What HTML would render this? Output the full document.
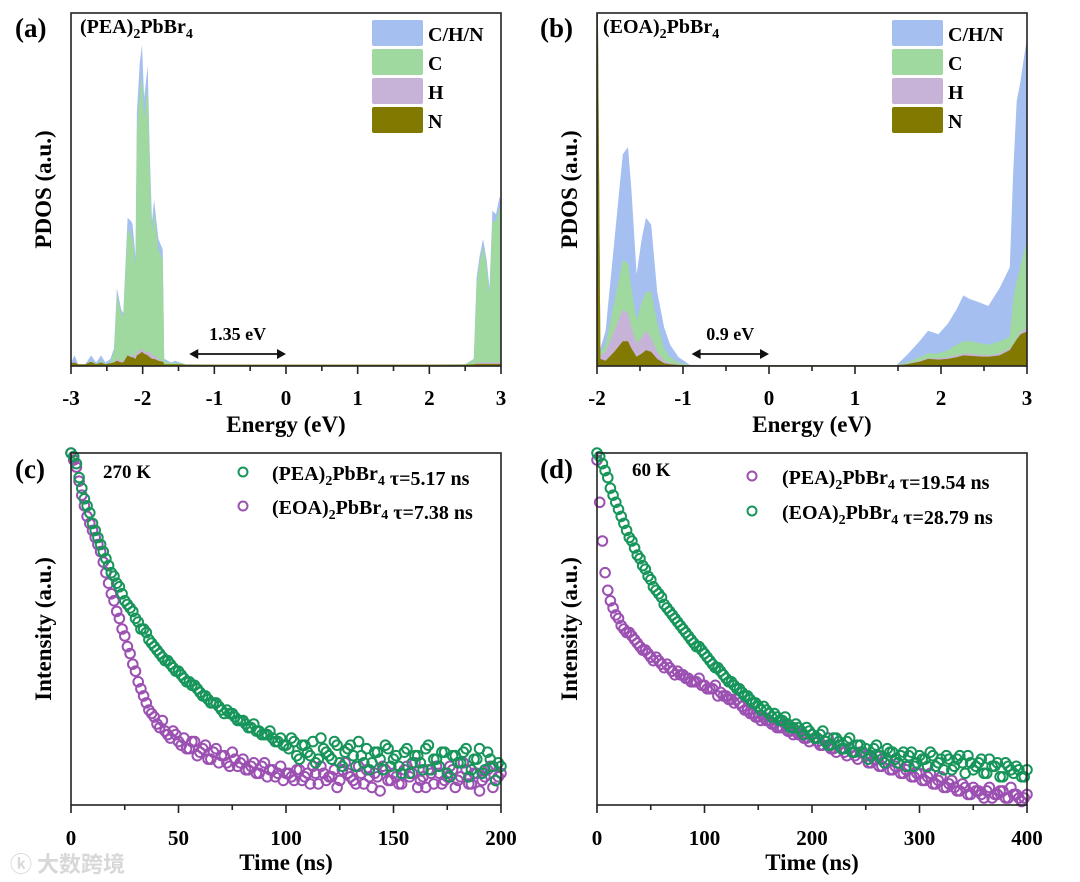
<!DOCTYPE html>
<html><head><meta charset="utf-8"><style>
html,body{margin:0;padding:0;background:#fff;}
svg{display:block;font-family:"Liberation Serif","Noto Serif CJK SC",serif;font-weight:bold;}
</style></head><body>
<svg id="fig" width="1080" height="882" viewBox="0 0 1080 882" xmlns="http://www.w3.org/2000/svg">
<text x="10" y="872" font-family="'Noto Sans CJK SC',sans-serif" font-size="22" fill="#d8d8d8">ⓚ 大数跨境</text>
</svg>
<script>
// ---------- Panel (a) PDOS data ----------
const energyA = [-3,-2.95,-2.9,-2.8,-2.72,-2.65,-2.58,-2.52,-2.45,-2.4,-2.36,-2.3,-2.27,-2.21,-2.16,-2.14,-2.1,-2.08,-2.04,-2.01,-1.98,-1.93,-1.9,-1.87,-1.84,-1.78,-1.72,-1.71,-1.70,-1.6,-1.55,-1.48,-1.4,-1.0,0,1,2,2.5,2.62,2.66,2.70,2.75,2.80,2.84,2.88,2.93,2.98,3.0];
const totalA = [0.01,0.03,0.005,0.005,0.03,0.01,0.03,0.01,0.02,0.05,0.22,0.16,0.15,0.42,0.41,0.40,0.31,0.72,0.86,0.91,0.76,0.85,0.60,0.41,0.47,0.36,0.33,0.2,0.02,0.01,0.015,0.01,0.005,0.004,0.004,0.004,0.004,0.005,0.02,0.25,0.31,0.36,0.30,0.22,0.44,0.43,0.48,0.46];
const carbonA = [0.005,0.01,0.003,0.003,0.015,0.005,0.015,0.005,0.01,0.04,0.20,0.15,0.14,0.39,0.37,0.36,0.28,0.66,0.78,0.82,0.70,0.79,0.55,0.38,0.44,0.33,0.30,0.18,0.015,0.008,0.01,0.008,0.004,0.003,0.003,0.003,0.003,0.004,0.018,0.23,0.29,0.34,0.28,0.20,0.41,0.41,0.45,0.44];
const hydrogenA = [0.003,0.01,0.002,0.002,0.01,0.003,0.01,0.003,0.005,0.01,0.02,0.015,0.015,0.03,0.03,0.03,0.03,0.04,0.045,0.05,0.04,0.04,0.04,0.03,0.03,0.02,0.015,0.01,0.005,0.003,0.003,0.003,0.003,0.003,0.003,0.003,0.003,0.003,0.005,0.01,0.01,0.01,0.01,0.01,0.01,0.01,0.01,0.01];
const nitrogenA = [0.008,0.01,0.005,0.005,0.012,0.005,0.01,0.005,0.008,0.01,0.015,0.01,0.01,0.03,0.025,0.025,0.02,0.03,0.035,0.04,0.035,0.03,0.025,0.02,0.02,0.015,0.012,0.01,0.005,0.005,0.005,0.005,0.004,0.004,0.004,0.004,0.004,0.004,0.005,0.006,0.006,0.006,0.006,0.006,0.006,0.006,0.006,0.006];
const ticksA = [-3,-2,-1,0,1,2,3];
// ---------- Panel (b) PDOS data ----------
const energyB = [-2.0,-1.99,-1.96,-1.90,-1.80,-1.70,-1.64,-1.60,-1.54,-1.48,-1.43,-1.37,-1.30,-1.22,-1.15,-1.05,-0.92,0,1.0,1.48,1.6,1.75,1.85,1.97,2.08,2.18,2.26,2.33,2.45,2.55,2.68,2.80,2.84,2.88,2.92,2.95,3.0];
const totalB = [1.0,1.0,0.05,0.10,0.35,0.60,0.62,0.50,0.26,0.36,0.42,0.40,0.21,0.11,0.06,0.025,0.003,0.002,0.002,0.002,0.03,0.07,0.10,0.09,0.12,0.16,0.20,0.19,0.18,0.17,0.22,0.28,0.55,0.75,0.80,0.85,0.93];
const carbonB = [1.0,1.0,0.04,0.06,0.18,0.30,0.29,0.22,0.13,0.18,0.21,0.21,0.12,0.05,0.025,0.01,0.002,0.002,0.002,0.002,0.01,0.025,0.036,0.035,0.045,0.06,0.07,0.07,0.065,0.06,0.07,0.083,0.19,0.24,0.28,0.31,0.35];
const hydrogenB = [1.0,1.0,0.03,0.04,0.10,0.16,0.15,0.11,0.065,0.08,0.10,0.08,0.04,0.015,0.008,0.004,0.002,0.002,0.002,0.002,0.006,0.015,0.022,0.022,0.025,0.03,0.035,0.035,0.032,0.03,0.035,0.05,0.06,0.08,0.095,0.10,0.107];
const nitrogenB = [1.0,1.0,0.02,0.015,0.04,0.07,0.07,0.05,0.026,0.035,0.045,0.04,0.02,0.008,0.005,0.003,0.002,0.002,0.002,0.002,0.005,0.012,0.02,0.018,0.02,0.025,0.03,0.029,0.027,0.026,0.03,0.045,0.06,0.075,0.088,0.093,0.097];
const ticksB = [-2,-1,0,1,2,3];
// ---------- Panel (c) TRPL 270 K ----------
const timeStepC = 2.5;
const peaC = [1.00,0.97,0.90,0.85,0.80,0.76,0.72,0.68,0.65,0.62,0.58,0.56,0.53,0.50,0.49,0.46,0.44,0.42,0.41,0.39,0.38,0.36,0.35,0.34,0.32,0.31,0.29,0.29,0.27,0.27,0.26,0.24,0.24,0.22,0.23,0.21,0.20,0.21,0.18,0.19,0.17,
0.19,0.14,0.17,0.15,0.18,0.13,0.16,0.14,0.18,0.12,0.15,0.17,0.11,0.14,0.16,0.12,0.15,0.10,0.16,0.13,0.11,0.15,0.09,0.14,0.12,0.16,0.10,0.13,0.15,0.09,0.14,0.12,0.15,0.08,0.13,0.16,0.10,0.13,0.07,0.11];
const peaC2 = [0.99,0.93,0.87,0.83,0.78,0.74,0.70,0.66,0.63,0.60,0.57,0.55,0.52,0.50,0.47,0.45,0.43,0.41,0.40,0.38,0.37,0.35,0.34,0.33,0.31,0.30,0.29,0.28,0.26,0.26,0.25,0.24,0.23,0.22,0.21,0.20,0.20,0.19,0.18,0.17,
0.16,0.18,0.13,0.17,0.14,0.12,0.19,0.15,0.13,0.17,0.11,0.16,0.14,0.18,0.12,0.10,0.15,0.13,0.17,0.11,0.14,0.09,0.16,0.12,0.14,0.10,0.17,0.13,0.11,0.15,0.08,0.14,0.12,0.16,0.10,0.13,0.09,0.15,0.11,0.12];
const eoaC = [1.00,0.96,0.88,0.82,0.78,0.74,0.69,0.63,0.58,0.53,0.48,0.43,0.38,0.33,0.29,0.26,0.23,0.24,0.20,0.21,0.18,0.19,0.16,0.18,0.15,0.17,0.13,0.16,0.14,0.12,0.15,0.11,0.13,0.10,0.12,0.09,0.12,0.10,0.08,0.11,0.09,
0.08,0.10,0.07,0.09,0.11,0.06,0.09,0.08,0.10,0.07,0.12,0.08,0.06,0.09,0.10,0.05,0.08,0.11,0.07,0.09,0.06,0.10,0.08,0.12,0.07,0.05,0.09,0.11,0.06,0.08,0.10,0.07,0.12,0.06,0.09,0.04,0.08,0.11,0.07,0.09];
const eoaC2 = [0.98,0.92,0.85,0.80,0.76,0.72,0.66,0.60,0.55,0.50,0.45,0.40,0.35,0.31,0.27,0.25,0.22,0.21,0.19,0.20,0.17,0.16,0.18,0.14,0.16,0.13,0.15,0.12,0.14,0.11,0.13,0.12,0.10,0.11,0.09,0.11,0.08,0.10,0.09,0.07,
0.09,0.07,0.10,0.08,0.06,0.09,0.11,0.07,0.08,0.05,0.10,0.09,0.07,0.11,0.06,0.08,0.09,0.04,0.10,0.07,0.08,0.06,0.11,0.09,0.05,0.08,0.10,0.06,0.09,0.07,0.11,0.05,0.08,0.10,0.06,0.09,0.07,0.10,0.05,0.08];
const ticksC = [0,50,100,150,200];
// ---------- Panel (d) TRPL 60 K ----------
const timeStepD = 5;
const peaD = [0.98,0.75,0.61,0.56,0.53,0.50,0.49,0.47,0.45,0.44,0.42,0.42,0.40,0.40,0.38,0.38,0.37,0.36,0.35,0.36,0.34,0.33,0.34,0.32,0.31,0.30,0.30,0.28,0.27,0.26,0.25,0.25,0.24,0.23,0.22,0.23,0.21,0.21,0.20,0.19,0.20,0.18,0.17,0.19,0.16,0.17,0.15,0.16,0.14,0.15,0.14,0.12,0.14,0.11,0.13,0.10,0.12,0.09,0.11,0.08,0.09,0.07,0.09,0.06,0.08,0.05,0.07,0.04,0.06,0.03,0.05,0.04,0.02,0.05,0.03,0.04,0.02,0.05,0.03,0.01,0.03];
const peaD2 = [0.86,0.66,0.58,0.54,0.51,0.49,0.48,0.46,0.44,0.43,0.41,0.41,0.39,0.39,0.37,0.37,0.36,0.35,0.35,0.34,0.33,0.33,0.31,0.31,0.30,0.29,0.29,0.27,0.26,0.25,0.24,0.24,0.23,0.22,0.22,0.21,0.20,0.20,0.19,0.18,0.19,0.17,0.18,0.16,0.15,0.16,0.14,0.15,0.13,0.15,0.12,0.13,0.11,0.12,0.10,0.11,0.09,0.10,0.08,0.09,0.07,0.08,0.06,0.07,0.05,0.06,0.05,0.04,0.05,0.03,0.04,0.03,0.04,0.02,0.03,0.04,0.02,0.03,0.02,0.02];
const eoaD = [1.00,0.97,0.93,0.88,0.84,0.80,0.76,0.73,0.70,0.67,0.64,0.61,0.59,0.56,0.54,0.52,0.50,0.48,0.46,0.45,0.43,0.41,0.39,0.38,0.36,0.35,0.33,0.32,0.31,0.29,0.28,0.28,0.26,0.26,0.24,0.25,0.22,0.23,0.21,0.22,0.20,0.19,0.21,0.17,0.19,0.18,0.16,0.19,0.15,0.17,0.16,0.14,0.17,0.13,0.16,0.15,0.12,0.15,0.14,0.11,0.14,0.13,0.15,0.11,0.13,0.14,0.10,0.13,0.12,0.14,0.10,0.12,0.09,0.13,0.11,0.08,0.12,0.10,0.11,0.08,0.10];
const eoaD2 = [0.99,0.95,0.90,0.86,0.82,0.78,0.75,0.71,0.68,0.65,0.62,0.60,0.57,0.55,0.53,0.51,0.49,0.47,0.45,0.44,0.42,0.40,0.39,0.37,0.35,0.34,0.33,0.31,0.30,0.29,0.27,0.27,0.25,0.25,0.24,0.23,0.22,0.22,0.20,0.21,0.19,0.20,0.18,0.17,0.19,0.16,0.18,0.15,0.17,0.15,0.13,0.16,0.14,0.12,0.15,0.13,0.14,0.11,0.15,0.12,0.13,0.11,0.14,0.12,0.10,0.13,0.11,0.14,0.09,0.12,0.11,0.13,0.09,0.11,0.12,0.08,0.11,0.09,0.10,0.08];
const ticksD = [0,100,200,300,400];

const NS='http://www.w3.org/2000/svg';
const svg=document.getElementById('fig');
function el(tag,attrs,parent){const e=document.createElementNS(NS,tag);for(const k in attrs)e.setAttribute(k,attrs[k]);(parent||svg).appendChild(e);return e;}
const COL={blue:'#a4bff0',green:'#9fd99f',purple:'#c7b3d8',olive:'#827a00',mG:'#17955a',mP:'#9b50b2'};

function makeAxes(x0,x1,y0,y1,xmin,xmax,ymin,ymax){
  return {sx:v=>x0+(v-xmin)/(xmax-xmin)*(x1-x0), sy:v=>y1-(v-ymin)/(ymax-ymin)*(y1-y0), x0,x1,y0,y1};
}
function frame(ax,ticks,minorStep,name,xtitle,ytitle,tickY,titleY){
  const g=el('g',{});
  
  
  const r=el('rect',{x:ax.x0,y:ax.y0,width:ax.x1-ax.x0,height:ax.y1-ax.y0,fill:'none',stroke:'#222','stroke-width':1.6},g);
  
  
  ticks.forEach(t=>{
    const x=ax.sx(t);
    const l=el('line',{x1:x,x2:x,y1:ax.y1,y2:ax.y1+8,stroke:'#222','stroke-width':1.6},g);
    
    
    const tx=el('text',{x:x,y:tickY,'text-anchor':'middle','font-size':21},g);
    tx.textContent=t;
    
    
  });
  for(let i=0;i<ticks.length-1;i++){
    const x=ax.sx(ticks[i]+minorStep);
    const l=el('line',{x1:x,x2:x,y1:ax.y1,y2:ax.y1+5,stroke:'#222','stroke-width':1.6},g);
    
    
  }
  const xt=el('text',{x:(ax.x0+ax.x1)/2,y:titleY,'text-anchor':'middle','font-size':23},g);
  xt.textContent=xtitle;
  
  
  const cy=(ax.y0+ax.y1)/2;
  const yt=el('text',{x:0,y:0,'text-anchor':'middle','font-size':23,transform:`translate(${ax.x0-20},${cy}) rotate(-90)`},g);
  yt.textContent=ytitle;
  
  
}
function area(ax,E,V,color,name){
  let d=`M${ax.sx(E[0])},${ax.sy(0)}`;
  E.forEach((e,i)=>{d+=`L${ax.sx(e).toFixed(1)},${ax.sy(V[i]).toFixed(1)}`;});
  d+=`L${ax.sx(E[E.length-1])},${ax.sy(0)}Z`;
  const p=el('path',{d:d,fill:color,stroke:'none'});
  
  
}
function scatter(ax,step,offset,V,color,name){
  const g=el('g',{fill:'none',stroke:color,'stroke-width':2});
  
  
  V.forEach((v,i)=>{
    const c=el('circle',{cx:ax.sx(offset+i*step).toFixed(1),cy:ax.sy(v).toFixed(1),r:4.8},g);
    
    
  });
}
function txt(x,y,html,size,name,anchor){
  const t=el('text',{x:x,y:y,'font-size':size,'text-anchor':anchor||'start'});
  t.innerHTML=html;
  
  
  return t;
}
const sub=s=>`<tspan dy="5" font-size="14">${s}</tspan><tspan dy="-5">`;
function formula(a){return `(${a})${sub('2')}PbBr${sub('4')}</tspan></tspan>`;}
function legendPDOS(x,name){
  [['C/H/N',COL.blue],['C',COL.green],['H',COL.purple],['N',COL.olive]].forEach((it,i)=>{
    const y=20+i*29;
    const r=el('rect',{x:x,y:y,width:51,height:26,rx:2,fill:it[1]});
    
    
    txt(x+56,y+21,it[0],20,name+'-legend-label');
  });
}
function arrow(x1,x2,y,label,name){
  const g=el('g',{stroke:'#111','stroke-width':1.8,fill:'#111'});
  
  
  el('line',{x1:x1+3,x2:x2-3,y1:y,y2:y},g);
  el('path',{d:`M${x1},${y}l9,-5v10z`,stroke:'none'},g);
  el('path',{d:`M${x2},${y}l-9,-5v10z`,stroke:'none'},g);
  txt((x1+x2)/2,y-14,label,18,name+'-label','middle');
}

// Panel a
const axA=makeAxes(71,501,13,366,-3,3,0,1);
area(axA,energyA,totalA,COL.blue,'pdos-a-chn');
area(axA,energyA,carbonA,COL.green,'pdos-a-c');
area(axA,energyA,hydrogenA,COL.purple,'pdos-a-h');
area(axA,energyA,nitrogenA,COL.olive,'pdos-a-n');
frame(axA,ticksA,0.5,'panel-a','Energy (eV)','PDOS (a.u.)',405,432);
txt(15,37,'(a)',27,'panel-a-label');
txt(80,33,formula('PEA'),20,'panel-a-title');
legendPDOS(372,'panel-a');
arrow(axA.sx(-1.35),axA.sx(0),354,'1.35 eV','gap-arrow-a');

// Panel b
const axB=makeAxes(597,1027,13,366,-2,3,0,1);
area(axB,energyB,totalB,COL.blue,'pdos-b-chn');
area(axB,energyB,carbonB,COL.green,'pdos-b-c');
area(axB,energyB,hydrogenB,COL.purple,'pdos-b-h');
area(axB,energyB,nitrogenB,COL.olive,'pdos-b-n');
frame(axB,ticksB,0.5,'panel-b','Energy (eV)','PDOS (a.u.)',405,432);
txt(540,37,'(b)',27,'panel-b-label');
txt(603,33,formula('EOA'),20,'panel-b-title');
legendPDOS(892,'panel-b');
arrow(axB.sx(-0.9),axB.sx(0),354,'0.9 eV','gap-arrow-b');

// Panel c
const axC=makeAxes(71,501,453,805,0,200,0,1);
scatter(axC,timeStepC,0,eoaC,COL.mP,'series-c-eoa');
scatter(axC,timeStepC,timeStepC/2,eoaC2,COL.mP,'series-c-eoa-b');
scatter(axC,timeStepC,0,peaC,COL.mG,'series-c-pea');
scatter(axC,timeStepC,timeStepC/2,peaC2,COL.mG,'series-c-pea-b');
frame(axC,ticksC,25,'panel-c','Time (ns)','Intensity (a.u.)',845,870);
txt(15,478,'(c)',27,'panel-c-label');
txt(103,478,'270 K',19,'panel-c-temp');
[[COL.mG,'PEA','5.17',472],[COL.mP,'EOA','7.38',506]].forEach(it=>{
  const c=el('circle',{cx:243,cy:it[3],r:4.5,fill:'none',stroke:it[0],'stroke-width':2});
  
  
  txt(272,it[3]+8,formula(it[1])+' τ='+it[2]+' ns',20,'panel-c-legend-label');
});

// Panel d
const axD=makeAxes(597,1027,453,805,0,400,0,1);
scatter(axD,timeStepD,0,peaD,COL.mP,'series-d-pea');
scatter(axD,timeStepD,timeStepD/2,peaD2,COL.mP,'series-d-pea-b');
scatter(axD,timeStepD,0,eoaD,COL.mG,'series-d-eoa');
scatter(axD,timeStepD,timeStepD/2,eoaD2,COL.mG,'series-d-eoa-b');
frame(axD,ticksD,50,'panel-d','Time (ns)','Intensity (a.u.)',845,870);
txt(540,478,'(d)',27,'panel-d-label');
txt(632,476,'60 K',19,'panel-d-temp');
[[COL.mP,'PEA','19.54',476],[COL.mG,'EOA','28.79',511]].forEach(it=>{
  const c=el('circle',{cx:752,cy:it[3],r:4.5,fill:'none',stroke:it[0],'stroke-width':2});
  
  
  txt(782,it[3]+8,formula(it[1])+' τ='+it[2]+' ns',20,'panel-d-legend-label');
});
</script>
</body></html>
